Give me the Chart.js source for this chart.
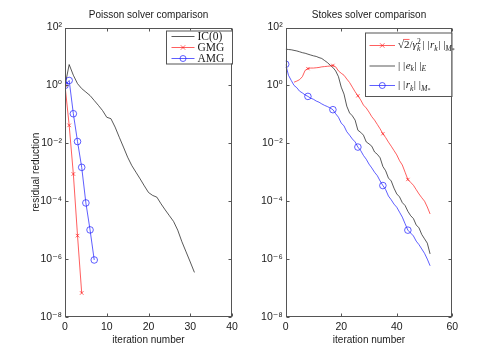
<!DOCTYPE html>
<html><head><meta charset="utf-8">
<script src="https://cdn.jsdelivr.net/npm/chart.js@4/dist/chart.umd.min.js"></script>
<style>
html,body{margin:0;padding:0;background:#fff;width:500px;height:356px;overflow:hidden}
canvas{position:absolute;top:0}
#c1{left:0}
#c2{left:250px}
</style></head><body>
<canvas id="c1" width="250" height="356"></canvas>
<canvas id="c2" width="250" height="356"></canvas>
<script>
// ---------------- data ----------------
const poissonTitle = 'Poisson solver comparison';
const stokesTitle = 'Stokes solver comparison';
const xTitle = 'iteration number';
const yTitle = 'residual reduction';
const poissonXTicks = [0, 10, 20, 30, 40];
const stokesXTicks = [0, 20, 40, 60];
const yTickValues = [1e-8, 1e-6, 1e-4, 1e-2, 1e0, 1e2];
const yTickLabels = ['10⁻⁸', '10⁻⁶', '10⁻⁴', '10⁻²', '10⁰', '10²'];
const poissonLabels = ['IC(0)', 'GMG', 'AMG'];

// Poisson: residual reduction per iteration (iteration 0 first)
const icValues = [1, 5.25, 2.24, 1.15, 0.776, 0.589, 0.447, 0.302, 0.204, 0.135,
  0.0794, 0.0708, 0.0363, 0.0162, 0.00741, 0.00331, 0.00170, 0.001, 5.89e-4, 3.39e-4,
  2.0e-4, 1.58e-4, 1.38e-4, 8.13e-5, 5.01e-5, 3.16e-5, 2.0e-5, 1.0e-5, 3.98e-6, 1.78e-6,
  7.94e-7, 3.47e-7];
const gmgValues = [1, 0.0417, 8.71e-4, 6.46e-6, 6.76e-8];
const amgValues = [1, 1.48, 0.105, 0.0115, 1.48e-3, 8.71e-5, 1.02e-5, 9.33e-7];

// Stokes: iteration 0..52
const stokesErr = [17.8, 17.4, 17.0, 16.2, 15.5, 14.5, 13.5, 12.9, 12.0, 11.2,
  10.5, 10.0, 9.12, 8.51, 7.24, 6.17, 5.01, 4.17, 3.16, 2.0,
  0.871, 0.501, 0.191, 0.112, 0.0891, 0.0631, 0.0282, 0.0240, 0.0191, 0.0112,
  0.00955, 0.00794, 0.00501, 0.00417, 0.00316, 0.00158, 0.00112, 6.31e-4, 5.01e-4, 2.82e-4,
  1.78e-4, 1.41e-4, 8.91e-5, 7.08e-5, 4.47e-5, 3.16e-5, 2.51e-5, 1.51e-5, 1.20e-5, 7.08e-6,
  5.01e-6, 3.55e-6, 1.51e-6];
const stokesRes = [5.37, 2.24, 1.48, 1.0, 0.832, 0.631, 0.550, 0.468, 0.417, 0.363,
  0.331, 0.288, 0.263, 0.229, 0.204, 0.186, 0.166, 0.145, 0.105, 0.0794,
  0.0501, 0.0398, 0.0251, 0.0191, 0.0141, 0.0112, 0.00741, 0.00562, 0.00380, 0.00282,
  0.00191, 0.00141, 0.001, 7.59e-4, 5.01e-4, 3.47e-4, 2.51e-4, 1.51e-4, 1.12e-4, 7.94e-5,
  6.17e-5, 4.17e-5, 2.82e-5, 1.66e-5, 1.0e-5, 7.94e-6, 6.31e-6, 4.17e-6, 3.16e-6, 2.24e-6,
  1.58e-6, 1.0e-6, 5.89e-7];
// bound starts at iteration 3
const boundStart = 3;
const stokesBound = [1.29, 1.41, 1.58, 2.0, 3.31, 3.80, 3.98, 3.98, 4.07, 4.17,
  4.37, 4.47, 4.57, 4.68, 4.90, 4.37, 3.16, 2.63, 2.24, 1.66,
  1.26, 0.871, 0.603, 0.437, 0.316, 0.209, 0.166, 0.120, 0.0832, 0.0631,
  0.0447, 0.0316, 0.0214, 0.0158, 0.0110, 0.00794, 0.00562, 0.00398, 0.00251, 0.00178,
  0.001, 5.62e-4, 4.47e-4, 3.55e-4, 2.51e-4, 1.78e-4, 1.32e-4, 1.0e-4, 6.31e-5, 3.63e-5];
const boundMarkers = [8, 17, 26, 35, 44];
const resMarkers = [0, 8, 17, 26, 35, 44];

// ---------------- helpers ----------------
const SANS = '"Liberation Sans", Arial, "DejaVu Sans", sans-serif';
const SERIF = '"Liberation Serif", "Times New Roman", "DejaVu Serif", serif';
const INK = '#1a1a1a';
const AXIS = '#555555';
const RED = '#ff1a1a', BLUE = '#1a1aff', BLACK = '#111111';
const LW = 0.7;

const toPts = (vals, start) => vals.map((v, i) => ({x: (start || 0) + i, y: v}));

function drawMarker(ctx, type, cx, cy, r, color) {
  ctx.save();
  ctx.strokeStyle = color; ctx.lineWidth = LW;
  ctx.beginPath();
  if (type === 'circle') {
    ctx.arc(cx, cy, r, 0, Math.PI * 2);
  } else if (type === 'crossRot') {
    ctx.moveTo(cx - r, cy - r); ctx.lineTo(cx + r, cy + r);
    ctx.moveTo(cx - r, cy + r); ctx.lineTo(cx + r, cy - r);
  }
  ctx.stroke();
  ctx.restore();
}

function drawRich(ctx, x, y, parts, base) {
  ctx.textAlign = 'left';
  ctx.textBaseline = 'middle';
  for (const p of parts) {
    const size = base * (p.s || 1);
    ctx.font = (p.i ? 'italic ' : '') + size + 'px ' + SERIF;
    ctx.fillText(p.t, x, y + (p.dy || 0));
    const w = ctx.measureText(p.t).width;
    if (p.bar) {
      ctx.save();
      ctx.lineWidth = 0.7;
      ctx.beginPath();
      ctx.moveTo(x - 0.5, y - size * 0.55);
      ctx.lineTo(x + w, y - size * 0.55);
      ctx.stroke();
      ctx.restore();
    }
    if (!p.stay) x += w + (p.gap || 0);
  }
}

const decor = {
  id: 'mlDecor',
  afterDraw(chart, args, opts) {
    const {ctx, chartArea: a} = chart;
    const xs = chart.scales.x, ys = chart.scales.y;
    ctx.save();
    // axes box with inward ticks
    ctx.strokeStyle = AXIS; ctx.lineWidth = 1;
    const L = Math.round(a.left) + 0.5, R = Math.round(a.right) - 0.5;
    const T = Math.round(a.top) + 0.5, B = Math.round(a.bottom) - 0.5;
    ctx.strokeRect(L, T, R - L, B - T);
    ctx.beginPath();
    xs.ticks.forEach(t => {
      const p = Math.round(xs.getPixelForValue(t.value)) + 0.5;
      ctx.moveTo(p, B); ctx.lineTo(p, B - 3);
      ctx.moveTo(p, T); ctx.lineTo(p, T + 3);
    });
    ys.ticks.forEach(t => {
      const p = Math.round(ys.getPixelForValue(t.value)) + 0.5;
      ctx.moveTo(L, p); ctx.lineTo(L + 3, p);
      ctx.moveTo(R, p); ctx.lineTo(R - 3, p);
    });
    ctx.stroke();
    // title
    ctx.fillStyle = INK;
    ctx.font = '10px ' + SANS;
    ctx.textAlign = 'center'; ctx.textBaseline = 'middle';
    ctx.fillText(opts.title, (a.left + a.right) / 2, 15);
    // legend
    const lg = opts.legend;
    ctx.fillStyle = '#ffffff';
    ctx.fillRect(lg.box[0], lg.box[1], lg.box[2] - lg.box[0], lg.box[3] - lg.box[1]);
    ctx.strokeStyle = AXIS; ctx.lineWidth = 1;
    ctx.strokeRect(lg.box[0] + 0.5, lg.box[1] + 0.5, lg.box[2] - lg.box[0], lg.box[3] - lg.box[1]);
    lg.entries.forEach((e, i) => {
      const y = lg.rows[i];
      ctx.strokeStyle = e.color; ctx.lineWidth = LW;
      ctx.beginPath();
      ctx.moveTo(lg.line[0], y + 0.5); ctx.lineTo(lg.line[1], y + 0.5);
      ctx.stroke();
      if (e.marker) drawMarker(ctx, e.marker, (lg.line[0] + lg.line[1]) / 2, y + 0.5, e.r, e.color);
      ctx.fillStyle = INK;
      drawRich(ctx, lg.textX, y + 0.5, e.parts, lg.size);
    });
    ctx.restore();
  }
};

function makeScales(xMax, xTicks, yWidth, showYTitle) {
  return {
    x: {
      type: 'linear', min: 0, max: xMax,
      afterBuildTicks: s => { s.ticks = xTicks.map(v => ({value: v})); },
      ticks: {font: {family: SANS, size: 10.5}, color: INK, padding: 4, maxRotation: 0, autoSkip: false},
      grid: {display: false, drawTicks: false},
      border: {display: false},
      title: {display: true, text: xTitle, font: {family: SANS, size: 10}, color: INK, padding: {top: 0, bottom: 10}},
      afterFit: s => { s.height = 39; }
    },
    y: {
      type: 'logarithmic', min: 1e-8, max: 1e2,
      afterBuildTicks: s => { s.ticks = yTickValues.map(v => ({value: v})); },
      ticks: {font: {family: SANS, size: 10.5}, color: INK, padding: 3, autoSkip: false,
              callback: (v, i) => yTickLabels[i]},
      grid: {display: false, drawTicks: false},
      border: {display: false},
      title: {display: showYTitle, text: yTitle, font: {family: SANS, size: 10}, color: INK, padding: {top: 30.7, bottom: 0}},
      afterFit: s => { s.width = yWidth; }
    }
  };
}

const lineDs = (label, data, color, extra) => Object.assign({
  label, data, borderColor: color, backgroundColor: 'transparent',
  borderWidth: LW, pointBorderWidth: LW, pointBackgroundColor: 'transparent',
  pointBorderColor: color, pointRadius: 0, tension: 0, fill: false
}, extra || {});

// ---------------- Poisson chart ----------------
new Chart(document.getElementById('c1'), {
  type: 'line',
  data: {
    datasets: [
      lineDs(poissonLabels[2], toPts(amgValues), BLUE, {pointStyle: 'circle', pointRadius: 3.3}),
      lineDs(poissonLabels[1], toPts(gmgValues), RED, {pointStyle: 'crossRot', pointRadius: 2.5}),
      lineDs(poissonLabels[0], toPts(icValues), BLACK)
    ]
  },
  options: {
    responsive: false, animation: false, devicePixelRatio: 1,
    layout: {padding: {top: 27.5, right: 18, bottom: 0, left: 0}},
    scales: makeScales(40, poissonXTicks, 65, true),
    plugins: {
      legend: {display: false}, tooltip: {enabled: false},
      mlDecor: {
        title: poissonTitle,
        legend: {
          box: [166, 30.5, 232, 63.5], line: [171.5, 194.5], textX: 197.5, rows: [36, 47, 58], size: 11.5,
          entries: [
            {color: BLACK, parts: [{t: poissonLabels[0]}]},
            {color: RED, marker: 'crossRot', r: 2.2, parts: [{t: poissonLabels[1]}]},
            {color: BLUE, marker: 'circle', r: 3, parts: [{t: poissonLabels[2]}]}
          ]
        }
      }
    }
  },
  plugins: [decor]
});

// ---------------- Stokes chart ----------------
new Chart(document.getElementById('c2'), {
  type: 'line',
  data: {
    datasets: [
      lineDs('bound', toPts(stokesBound, boundStart), RED, {pointStyle: 'crossRot',
        pointRadius: c => boundMarkers.includes(c.raw.x) ? 2.3 : 0}),
      lineDs('energy error', toPts(stokesErr), BLACK),
      lineDs('residual', toPts(stokesRes), BLUE, {pointStyle: 'circle',
        pointRadius: c => resMarkers.includes(c.raw.x) ? 3.3 : 0})
    ]
  },
  options: {
    responsive: false, animation: false, devicePixelRatio: 1,
    layout: {padding: {top: 27.5, right: 47.7, bottom: 0, left: 0}},
    scales: makeScales(60, stokesXTicks, 35.7, false),
    plugins: {
      legend: {display: false}, tooltip: {enabled: false},
      mlDecor: {
        title: stokesTitle,
        legend: {
          box: [115, 32.5, 201.5, 96], line: [119.5, 145], textX: 148, rows: [45, 65.5, 85], size: 11,
          entries: [
            {color: RED, marker: 'crossRot', r: 2.2, parts: [
              {t: '√'}, {t: '2', bar: true}, {t: '/'}, {t: 'γ', i: 1},
              {t: '2', s: 0.7, dy: -4, stay: 1}, {t: 'k', i: 1, s: 0.7, dy: 3, gap: 2},
              {t: '| |', gap: 0.5}, {t: 'r', i: 1}, {t: 'k', i: 1, s: 0.7, dy: 3, gap: 0.5},
              {t: '| |'}, {t: 'M', i: 1, s: 0.7, dy: 3}, {t: '*', s: 0.55, dy: 5}
            ]},
            {color: BLACK, parts: [
              {t: '| |', gap: 0.5}, {t: 'e', i: 1}, {t: 'k', i: 1, s: 0.7, dy: 3, gap: 0.5},
              {t: '| |'}, {t: 'E', i: 1, s: 0.7, dy: 3}
            ]},
            {color: BLUE, marker: 'circle', r: 3, parts: [
              {t: '| |', gap: 0.5}, {t: 'r', i: 1}, {t: 'k', i: 1, s: 0.7, dy: 3, gap: 0.5},
              {t: '| |'}, {t: 'M', i: 1, s: 0.7, dy: 3}, {t: '*', s: 0.55, dy: 5}
            ]}
          ]
        }
      }
    }
  },
  plugins: [decor]
});
</script>
</body></html>
